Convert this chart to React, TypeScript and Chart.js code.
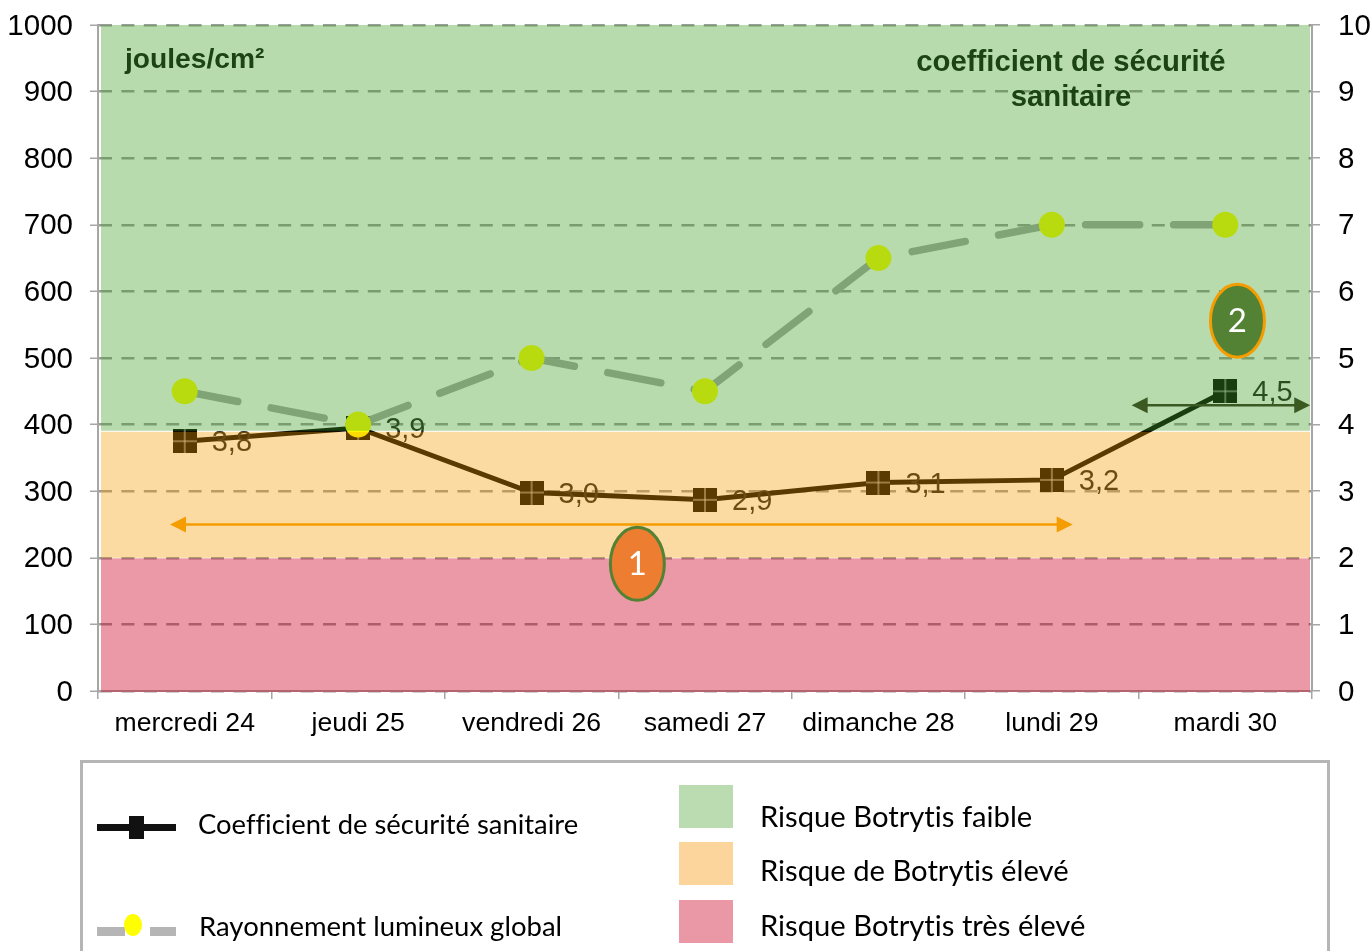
import React, { useEffect, useRef } from "react";
import { Chart, registerables } from "chart.js";

Chart.register(...registerables);

const categories = ["mercredi 24", "jeudi 25", "vendredi 26", "samedi 27", "dimanche 28", "lundi 29", "mardi 30"];
const coefficient = [3.75, 3.95, 2.98, 2.87, 3.13, 3.17, 4.5];
const coefficientLabels = ["3,8", "3,9", "3,0", "2,9", "3,1", "3,2", "4,5"];
const rayonnement = [450, 400, 500, 450, 650, 700, 700];
const bandLimits = [1000, 390, 200, 0];
const bandColors = ["rgba(68,160,42,0.38)", "rgba(243,157,0,0.37)", "rgba(205,0,32,0.40)"];
const SANS = '"Liberation Sans", Arial, sans-serif';
const LATO = 'Lato, "Open Sans", sans-serif';
const GREY = "#a6a6a6";

function squareMarker() {
  const c = document.createElement("canvas");
  c.width = 24;
  c.height = 24;
  const g = c.getContext("2d")!;
  g.fillStyle = "#000";
  g.fillRect(0, 0, 24, 24);
  g.fillStyle = "#d0d0d0";
  g.fillRect(11.5, 0, 1, 24);
  g.fillRect(0, 11.5, 24, 1);
  return c;
}

function arrow(g: CanvasRenderingContext2D, x0: number, x1: number, y: number, color: string, w: number) {
  g.strokeStyle = color;
  g.fillStyle = color;
  g.lineWidth = w;
  g.beginPath();
  g.moveTo(x0 + 10, y);
  g.lineTo(x1 - 10, y);
  g.stroke();
  for (const [tip, dir] of [[x0, 1], [x1, -1]]) {
    g.beginPath();
    g.moveTo(tip, y);
    g.lineTo(tip + dir * 16, y - 8);
    g.lineTo(tip + dir * 16, y + 8);
    g.closePath();
    g.fill();
  }
}

function badge(g: CanvasRenderingContext2D, x: number, y: number, fill: string, stroke: string, text: string) {
  g.beginPath();
  g.ellipse(x, y, 27, 36.5, 0, 0, Math.PI * 2);
  g.fillStyle = fill;
  g.fill();
  g.lineWidth = 3;
  g.strokeStyle = stroke;
  g.stroke();
  g.fillStyle = "#fff";
  g.font = `33px ${LATO}`;
  g.textAlign = "center";
  g.textBaseline = "middle";
  g.fillText(text, x, y + 1);
}

const overlayPlugin = {
  id: "overlay",
  afterDatasetsDraw(chart: any) {
    const g: CanvasRenderingContext2D = chart.ctx;
    const { x, y } = chart.scales;
    const meta = chart.getDatasetMeta(0);
    g.save();
    // value labels sit under the translucent risk bands
    g.font = `29px ${SANS}`;
    g.fillStyle = "#1c1c1c";
    g.textAlign = "left";
    g.textBaseline = "middle";
    meta.data.forEach((p: any, i: number) => {
      g.fillText(coefficientLabels[i], p.x + 27, p.y + 2);
    });
    // risk bands
    bandColors.forEach((col, i) => {
      const top = y.getPixelForValue(bandLimits[i]) + (i === 0 ? 0 : 0.5);
      const bottom = y.getPixelForValue(bandLimits[i + 1]) + (i === 2 ? 1 : i === 0 ? -0.5 : 0);
      g.fillStyle = col;
      g.fillRect(x.left + 3, top, x.width - 5, bottom - top);
    });
    const step = x.getPixelForValue(1) - x.getPixelForValue(0);
    const at = (v: number) => x.getPixelForValue(0) + v * step;
    // axis captions
    g.fillStyle = "#1c4412";
    g.font = `bold 28.2px ${SANS}`;
    g.textAlign = "left";
    g.fillText("joules/cm²", x.left + 27, y.getPixelForValue(947));
    g.textAlign = "center";
    g.font = `bold 29.3px ${SANS}`;
    g.fillText("coefficient de sécurité", at(5.11), y.getPixelForValue(943));
    g.fillText("sanitaire", at(5.11), y.getPixelForValue(890));
    // arrows and badges
    arrow(g, at(-0.085), at(5.12), y.getPixelForValue(250), "#f59d00", 2.5);
    arrow(g, at(5.46), at(6.49), y.getPixelForValue(429), "#3a5a22", 2.5);
    badge(g, at(2.61), y.getPixelForValue(191), "#ed7d31", "#548235", "1");
    badge(g, at(6.07), y.getPixelForValue(556), "#548235", "#f59d00", "2");
    g.restore();
  },
};

const legendText: React.CSSProperties = {
  position: "absolute",
  fontFamily: LATO,
  lineHeight: "32px",
  color: "#000",
  whiteSpace: "nowrap",
  fontVariantLigatures: "none",
};

function Swatch({ top, color }: { top: number; color: string }) {
  return <div style={{ position: "absolute", left: 679, top, width: 54, height: 43, background: color }} />;
}

function Label({ left, top, text, size }: { left: number; top: number; text: string; size: number }) {
  return <div style={{ ...legendText, left, top, fontSize: size }}>{text}</div>;
}

function Bar({ left, top, width, height, color }: { left: number; top: number; width: number; height: number; color: string }) {
  return <div style={{ position: "absolute", left, top, width, height, background: color }} />;
}

export default function App() {
  const ref = useRef<HTMLCanvasElement>(null);
  useEffect(() => {
    document.body.style.margin = "0";
    document.body.style.overflow = "hidden";
    const marker = squareMarker();
    const tickFont = { family: SANS, size: 29.5 };
    const chart = new Chart(ref.current!, {
      type: "line",
      data: {
        labels: categories,
        datasets: [
          {
            label: "Coefficient de sécurité sanitaire",
            data: coefficient,
            yAxisID: "y1",
            borderColor: "#000",
            borderWidth: 5,
            pointStyle: marker as any,
            pointRadius: 12,
            tension: 0,
            order: 2,
          },
          {
            label: "Rayonnement lumineux global",
            data: rayonnement,
            yAxisID: "y",
            borderColor: GREY,
            borderWidth: 7.5,
            borderDash: [54, 34],
            borderCapStyle: "round",
            pointStyle: "circle",
            pointRadius: 13,
            pointBackgroundColor: "#ffff00",
            pointBorderWidth: 0,
            tension: 0,
            order: 1,
          },
        ],
      },
      options: {
        animation: false,
        responsive: false,
        layout: { autoPadding: false, padding: { top: 25, left: 0, right: 0, bottom: 0 } },
        plugins: { legend: { display: false }, tooltip: { enabled: false } },
        scales: {
          x: {
            offset: true,
            afterFit: (s: any) => { s.height = 260; },
            grid: { offset: true, drawOnChartArea: false, color: GREY, tickColor: GREY, tickLength: 8, lineWidth: 1.5 },
            border: { color: GREY, width: 2 },
            ticks: { font: { family: SANS, size: 26.6 }, color: "#000", padding: 9, maxRotation: 0 },
          },
          y: {
            position: "left",
            min: 0,
            max: 1000,
            afterFit: (s: any) => { s.width = 98; s.paddingTop = 0; s.paddingBottom = 0; },
            grid: { color: "#9b9b9b", lineWidth: 2.5, tickColor: GREY, tickBorderDash: [], tickLength: 8, tickWidth: 1.5 } as any,
            border: { color: GREY, width: 2, dash: [13, 9.4] } as any,
            ticks: { stepSize: 100, font: tickFont, color: "#000", padding: 17, labelOffset: 1.5, callback: (v: any) => String(v) },
          },
          y1: {
            position: "right",
            min: 0,
            max: 10,
            afterFit: (s: any) => { s.width = 59; s.paddingTop = 0; s.paddingBottom = 0; },
            grid: { drawOnChartArea: false, color: GREY, tickLength: 8, lineWidth: 1.5 },
            border: { color: GREY, width: 2 },
            ticks: { stepSize: 1, font: tickFont, color: "#000", padding: 18, labelOffset: 1.5, callback: (v: any) => String(v) },
          },
        },
      },
      plugins: [overlayPlugin],
    } as any);
    return () => chart.destroy();
  }, []);
  return (
    <div style={{ position: "relative", width: 1371, height: 951, overflow: "hidden", background: "#fff" }}>
      <canvas ref={ref} width={1371} height={951} style={{ position: "absolute", left: 0, top: 0, display: "block" }} />
      <div style={{ position: "absolute", left: 80, top: 760, width: 1244, height: 300, border: "3px solid #b5b5b5" }} />
      <Bar left={97} top={824} width={79} height={7} color="#111" />
      <Bar left={129} top={816} width={15} height={23} color="#111" />
      <Label left={198} top={808} size={27.4} text="Coefficient de sécurité sanitaire" />
      <Bar left={97} top={927} width={28} height={9} color="#b5b5b5" />
      <Bar left={150} top={927} width={26} height={9} color="#b5b5b5" />
      <div style={{ position: "absolute", left: 124, top: 914, width: 18, height: 22, borderRadius: "50%", background: "#ffff00" }} />
      <Label left={199} top={910} size={27.5} text="Rayonnement lumineux global" />
      <Swatch top={785} color="#bbdbb0" />
      <Swatch top={842} color="#fbd59c" />
      <Swatch top={900} color="#eb98a6" />
      <Label left={760} top={800} size={29.2} text="Risque Botrytis faible" />
      <Label left={760} top={854} size={29.2} text="Risque de Botrytis élevé" />
      <Label left={760} top={909} size={29.2} text="Risque Botrytis très élevé" />
    </div>
  );
}
